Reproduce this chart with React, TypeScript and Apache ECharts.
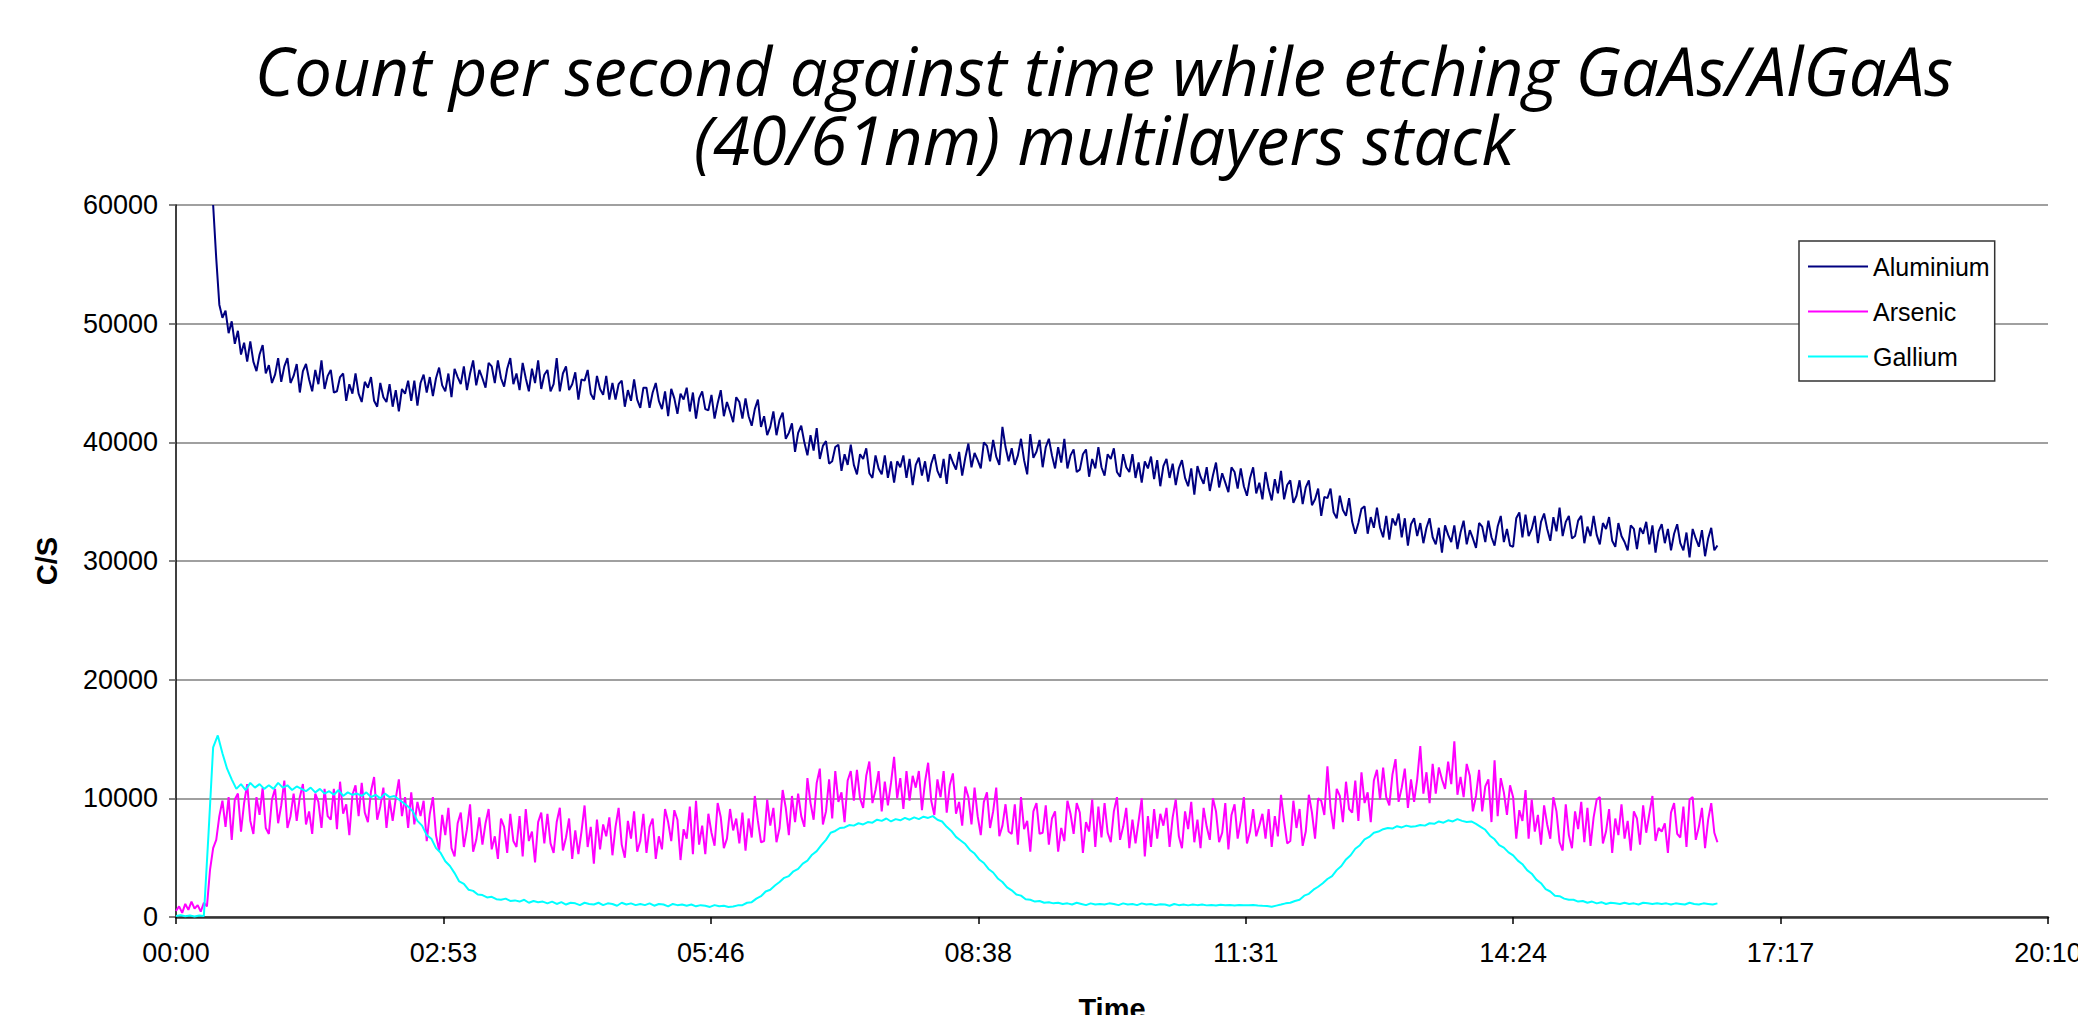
import React, { useEffect, useRef } from "react";
import * as echarts from "echarts";

// ---------------- DATA ----------------
const TITLE_LINES = [
  "Count per second against time while etching GaAs/AlGaAs",
  "(40/61nm) multilayers stack",
];
const SERIES_NAMES = ["Aluminium", "Arsenic", "Gallium"];
const SERIES_COLORS = ["#000080", "#ff00ff", "#00ffff"];
const X_AXIS_NAME = "Time";
const Y_AXIS_NAME = "C/S";

// sample intervals (seconds) and first sample time of each trace
const ALUMINIUM_STEP_S = 2;
const ARSENIC_STEP_S = 2;
const GALLIUM_STEP_S = 3;
const ALUMINIUM_START_S = 24;
const ARSENIC_START_S = 0;
const GALLIUM_START_S = 0;

const aluminium = [
  60000, 55500, 51600, 50500, 51100, 49200, 50200, 48300, 49400, 47400,
  48400, 46800, 48500, 46800, 46000, 47400, 48200, 45800, 46500, 45000,
  45700, 47100, 45100, 46400, 47100, 45000, 45600, 46600, 44200, 46000,
  46600, 45300, 44300, 46100, 44900, 46900, 44500, 45600, 46100, 44200,
  44300, 45500, 45800, 43500, 44900, 44100, 45800, 44100, 43400, 45100,
  44600, 45500, 43500, 43000, 45000, 43800, 43400, 44900, 43000, 44400,
  42600, 44500, 44100, 45200, 43500, 45200, 43100, 45000, 45700, 44200,
  45500, 43900, 45400, 46300, 44800, 44300, 45800, 43800, 46200, 45500,
  44900, 46400, 44400, 45800, 46900, 44800, 46100, 45400, 44600, 46700,
  46400, 45000, 46900, 45400, 44700, 46200, 47100, 44900, 45800, 44400,
  46700, 45400, 44300, 46200, 45000, 46900, 44500, 45700, 46100, 44300,
  44900, 47100, 44300, 45800, 46400, 44400, 44900, 45900, 43600, 45300,
  45200, 46100, 44100, 43600, 45600, 44500, 44000, 45600, 43600, 45000,
  43600, 44900, 45200, 43000, 44400, 43500, 45300, 43600, 42900, 44600,
  44600, 42900, 44200, 45000, 43500, 42800, 44300, 42200, 44500, 43700,
  42400, 44100, 43600, 44600, 42600, 44200, 42000, 43700, 44300, 42800,
  42700, 44000, 42000, 43300, 44400, 42200, 43400, 42600, 41700, 43800,
  43400, 42000, 43700, 42200, 41400, 42800, 43600, 41300, 42200, 40600,
  41300, 42600, 40600, 41900, 42500, 40300, 40800, 41600, 39200, 40800,
  41400, 40000, 38900, 40600, 39300, 41200, 38600, 39700, 40100, 38200,
  38400, 39600, 39800, 37600, 39000, 38100, 39800, 38100, 37300, 39000,
  38600, 39500, 37400, 37000, 38900, 37800, 37300, 38900, 37000, 38400,
  36600, 38400, 37900, 38900, 37000, 38600, 36400, 38100, 38700, 37200,
  38400, 36700, 38200, 39000, 37600, 37000, 38600, 36500, 39000, 38300,
  37700, 39200, 37200, 38700, 39900, 37900, 39100, 38500, 37800, 40000,
  39700, 38400, 40200, 38800, 38100, 41300, 39600, 38400, 39500, 38100,
  38900, 40300, 38500, 37300, 40700, 38700, 39200, 40200, 37900, 39600,
  40300, 38900, 37800, 39600, 38300, 40300, 37800, 38900, 39400, 37500,
  37700, 39000, 39400, 37100, 38600, 37800, 39600, 37900, 37200, 39000,
  38600, 39500, 37500, 37100, 39000, 37900, 37500, 39000, 37000, 38300,
  36600, 38400, 37800, 38800, 36900, 38500, 36300, 38000, 38600, 37000,
  38200, 36400, 37800, 38500, 37000, 36300, 37800, 35600, 38000, 37100,
  36500, 37900, 35900, 37200, 38300, 36200, 37400, 36600, 35800, 37900,
  37500, 36100, 37800, 36300, 35500, 37000, 37900, 35700, 36600, 35200,
  37500, 36100, 35100, 36900, 35700, 37600, 35200, 36400, 36800, 34900,
  35500, 36800, 34800, 36200, 36800, 34700, 35200, 36100, 33800, 35400,
  35300, 36100, 34100, 33600, 35500, 34300, 33800, 35300, 33300, 32300,
  33200, 34400, 34600, 32300, 33700, 32800, 34500, 32800, 32000, 33800,
  31800, 33600, 33000, 34000, 32000, 33600, 31300, 33100, 33600, 32100,
  33200, 31500, 32800, 33600, 32000, 31400, 32800, 30700, 33000, 32200,
  31600, 33000, 31000, 32400, 33400, 31400, 32600, 31900, 31100, 33200,
  32900, 31600, 33400, 32000, 31300, 32900, 33800, 31600, 32700, 31300,
  31200, 33600, 34100, 32000, 33900, 32100, 32700, 33800, 31500, 33300,
  34000, 32700, 31700, 33700, 32500, 34500, 32100, 33300, 33800, 31900,
  32100, 33400, 33800, 31500, 32900, 32100, 33800, 32200, 31400, 33200,
  32700, 33700, 31700, 31200, 33200, 32100, 31600, 30900, 33000, 32700,
  31000, 32800, 32300, 33300, 31400, 33000, 30700, 32500, 33100, 31500,
  32700, 30900, 32300, 33100, 31500, 30900, 32400, 30300, 32700, 31900,
  31200, 32600, 30400, 31900, 32800, 30900, 31300,
];

const arsenic = [
  500, 900, 350, 1100, 600, 1300, 700, 1000, 450, 1200,
  900, 4000, 5800, 6500, 8500, 9800, 7600, 10100, 6500, 9900,
  10400, 7200, 9600, 11200, 8100, 7000, 10100, 8600, 10900, 7500,
  7000, 9900, 10800, 7900, 9400, 11500, 7500, 8500, 10400, 8100,
  10100, 11200, 7800, 8900, 7000, 10400, 9700, 7500, 10800, 8500,
  8200, 10800, 7400, 11400, 8700, 9500, 6900, 10300, 11100, 8500,
  11300, 8800, 8000, 10600, 11800, 8200, 9300, 10900, 7500, 9900,
  8100, 10000, 11600, 8500, 10100, 7500, 10500, 7800, 9700, 8500,
  9800, 6400, 8700, 10100, 6900, 5600, 8600, 6900, 9200, 5800,
  5100, 7900, 8800, 5900, 7400, 9500, 5500, 6500, 8400, 6100,
  7900, 9100, 5700, 6800, 4900, 8300, 7600, 5400, 8700, 6400,
  5900, 8500, 5100, 9100, 6400, 7200, 4600, 8000, 8800, 6200,
  8700, 6200, 5400, 8000, 9200, 5600, 6700, 8300, 4900, 7300,
  5300, 7200, 9400, 5900, 7600, 4500, 8200, 5700, 7800, 6800,
  8400, 5200, 7600, 9200, 6100, 5000, 8100, 6600, 8900, 5500,
  6400, 8700, 5400, 7600, 8300, 4900, 6800, 5700, 9100, 8000,
  6400, 9000, 8200, 4800, 7400, 6600, 9300, 5300, 9800, 6100,
  7700, 5300, 8700, 7100, 6000, 9600, 8400, 5800, 6600, 9100,
  7300, 8300, 6200, 8800, 5600, 8300, 6700, 10200, 8100, 6300,
  6400, 9900, 7700, 9200, 6300, 7500, 10700, 9200, 6900, 10200,
  8000, 10400, 8500, 7600, 11700, 9600, 8200, 11300, 12500, 7800,
  8900, 11600, 8300, 12300, 9700, 10500, 8000, 11500, 12300, 9800,
  12400, 10000, 9200, 11900, 13100, 9600, 10700, 12300, 8900, 11400,
  9400, 11300, 13500, 10000, 11700, 9100, 12300, 9800, 11900, 10900,
  12300, 9000, 11400, 13000, 9800, 8600, 11600, 10100, 12300, 8800,
  11100, 12100, 8700, 9700, 7700, 11000, 10100, 7800, 10900, 8500,
  6900, 9700, 10500, 7500, 8900, 10900, 6800, 7700, 9500, 7200,
  7000, 9500, 6100, 10100, 7400, 8100, 5500, 8900, 9600, 7000,
  7100, 9400, 6100, 8300, 8900, 5500, 7500, 6400, 9800, 8700,
  7000, 9600, 8800, 5400, 8000, 7200, 9900, 5900, 9300, 6700,
  9600, 7100, 6300, 8900, 10100, 6500, 7600, 9200, 5800, 8200,
  6200, 8100, 10000, 5100, 8500, 5900, 9100, 6600, 8700, 7700,
  9200, 5900, 8400, 9900, 6800, 5800, 8900, 7400, 9700, 6300,
  8200, 5800, 9200, 7600, 6500, 10000, 8900, 6300, 7100, 9600,
  5700, 8600, 9500, 6600, 8100, 10100, 6200, 7200, 9100, 6800,
  7700, 8700, 6600, 9100, 5900, 8500, 6800, 10300, 8100, 6200,
  6400, 9800, 7500, 9100, 6000, 7200, 10300, 8800, 6600, 10000,
  9800, 8600, 12700, 9200, 7400, 10800, 10200, 8000, 11400, 9100,
  8800, 11500, 8100, 12200, 9600, 10500, 8000, 11500, 12400, 9900,
  12600, 10100, 9400, 12000, 13300, 9700, 10900, 12500, 9200, 11600,
  9700, 11600, 14400, 10400, 12200, 9600, 12900, 10400, 12600, 11600,
  10800, 13100, 11200, 14800, 10300, 11800, 10100, 12900, 11900, 8900,
  10200, 12400, 8900, 11000, 11600, 8000, 13200, 8500, 11700, 10500,
  8600, 11100, 10100, 6600, 9000, 8100, 10700, 6600, 9900, 7200,
  8600, 6100, 9400, 7800, 6600, 10100, 8900, 6300, 5600, 9500,
  6900, 5800, 8900, 7400, 9700, 6300, 9200, 6000, 8400, 9900,
  10100, 6200, 7200, 9100, 5400, 8300, 6900, 9500, 6600, 8100,
  5600, 8900, 8300, 6100, 9400, 7100, 8700, 10200, 6400, 7500,
  7200, 7900, 5400, 8800, 9600, 7000, 6700, 9300, 5900, 9900,
  10100, 6500, 7600, 9200, 5800, 8200, 9600, 7100, 6300,
];

const gallium = [
  80, 150, 60, 120, 50, 130, 90, 7000, 14300, 15300,
  13800, 12500, 11600, 10800, 11200, 10700, 11300, 10900, 11200, 10800,
  11100, 10800, 11300, 10900, 11100, 10700, 11000, 10800, 10600, 10900,
  10500, 10800, 10400, 10600, 10300, 10700, 10200, 10500, 10300, 10400,
  10200, 10500, 10100, 10300, 10000, 10400, 10100, 10200, 9900, 9600,
  9300, 8900, 8100, 7700, 6900, 6600, 5800, 5400, 4700, 4300,
  3700, 3000, 2800, 2300, 2200, 1900, 1850, 1650, 1700, 1500,
  1450, 1550, 1350, 1400, 1300, 1450, 1200, 1350, 1250, 1300,
  1150, 1300, 1100, 1250, 1050, 1200, 1150, 1000, 1200, 1100,
  1050, 1200, 1000, 1150, 1100, 950, 1200, 1050, 1150, 1000,
  1100, 1000, 1150, 950, 1100, 1050, 900, 1100, 1000, 1050,
  950, 1050, 900, 1000, 950, 850, 1000, 900, 950, 850,
  880, 980, 1000, 1200, 1250, 1550, 1750, 2150, 2300, 2650,
  2950, 3300, 3450, 3850, 4050, 4500, 4750, 5250, 5550, 6050,
  6500, 7100, 7250, 7500, 7550, 7750, 7700, 7900, 7800, 8000,
  7950, 8200, 8100, 8300, 8050, 8250, 8150, 8350, 8200, 8400,
  8250, 8450, 8350, 8500, 8200, 8050, 7600, 7250, 6750, 6450,
  6150, 5650, 5350, 4850, 4550, 4050, 3750, 3250, 2950, 2500,
  2250, 1900, 1800, 1500, 1450, 1300, 1350, 1200, 1250, 1150,
  1200, 1100, 1150, 1050, 1200, 1100, 1000, 1150, 1050, 1100,
  1050, 1150, 1100, 1000, 1150, 1050, 1100, 1000, 1150, 1050,
  1100, 1000, 1080, 1050, 950, 1100, 1000, 1050, 980, 1060,
  1000, 1050, 980, 1020, 960, 1030, 990, 1010, 970, 1020,
  1000, 980, 1010, 970, 940, 920, 860, 960, 1050, 1150,
  1200, 1350, 1450, 1800, 1950, 2300, 2550, 2850, 3200, 3450,
  3950, 4300, 4850, 5200, 5750, 6050, 6550, 6750, 7100, 7200,
  7400, 7500, 7450, 7650, 7550, 7700, 7600, 7650, 7750, 7700,
  7900, 7850, 8050, 7950, 8150, 8050, 8250, 8100, 8000, 8050,
  7850, 7600, 7350, 6850, 6550, 6050, 5850, 5450, 5200, 4750,
  4450, 3950, 3650, 3150, 2850, 2350, 2150, 1800, 1750, 1550,
  1450, 1450, 1300, 1350, 1200, 1300, 1150, 1250, 1100, 1200,
  1150, 1100, 1200, 1100, 1150, 1050, 1200, 1150, 1100, 1150,
  1100, 1150, 1050, 1150, 1100, 1050, 1200, 1100, 1050, 1150,
  1100, 1050, 1150,
];

// x axis: Excel major unit of 0.002 day = 172.8 s
const X_MAJOR_UNIT_S = 172.8;
const xTickLabels = ["00:00", "02:53", "05:46", "08:38", "11:31", "14:24", "17:17", "20:10"];
const yTickValues = [0, 10000, 20000, 30000, 40000, 50000, 60000];

const FONT = "'Liberation Sans', Arial, Helvetica, sans-serif";
const TITLE_FONT = "'Open Sans', 'Noto Sans', sans-serif";

const toPoints = (values: number[], startS: number, stepS: number) =>
  values.map((v, i) => [startS + i * stepS, v]);

export default function App() {
  const ref = useRef<HTMLDivElement>(null);

  useEffect(() => {
    if (!ref.current) return;
    const chart = echarts.init(ref.current, undefined, { renderer: "svg" });

    const seriesData = [
      toPoints(aluminium, ALUMINIUM_START_S, ALUMINIUM_STEP_S),
      toPoints(arsenic, ARSENIC_START_S, ARSENIC_STEP_S),
      toPoints(gallium, GALLIUM_START_S, GALLIUM_STEP_S),
    ];

    const titleStyle = {
      fontFamily: TITLE_FONT,
      fontStyle: "italic",
      fontWeight: "normal",
      fontSize: 67,
      lineHeight: 66,
      color: "#000",
    };

    chart.setOption({
      animation: false,
      backgroundColor: "#ffffff",
      textStyle: { fontFamily: FONT, color: "#000" },
      title: [
        { text: TITLE_LINES[0], left: 1104, top: 37, textAlign: "center", padding: 0, textStyle: titleStyle },
        { text: TITLE_LINES[1], left: 1104, top: 106, textAlign: "center", padding: 0, textStyle: titleStyle },
      ],
      legend: {
        orient: "vertical",
        left: 1799,
        top: 241,
        padding: [13, 5, 12, 9],
        itemGap: 20,
        itemWidth: 60,
        itemHeight: 2,
        icon: "rect",
        backgroundColor: "#fff",
        borderColor: "#333",
        borderWidth: 1.5,
        borderRadius: 0,
        textStyle: { fontFamily: FONT, fontSize: 25, lineHeight: 25, color: "#000" },
        data: SERIES_NAMES,
      },
      grid: {
        left: 176,
        right: 30,
        top: 205,
        bottom: 98,
        containLabel: false,
        outerBoundsMode: "none",
      },
      xAxis: {
        type: "value",
        min: 0,
        max: X_MAJOR_UNIT_S * (xTickLabels.length - 1),
        interval: X_MAJOR_UNIT_S,
        name: X_AXIS_NAME,
        nameLocation: "middle",
        nameGap: 77,
        nameTextStyle: { fontFamily: FONT, fontSize: 29, fontWeight: "bold", color: "#000" },
        axisLine: { show: true, onZero: false, lineStyle: { color: "#333", width: 2.5 } },
        axisTick: { show: true, inside: false, length: 7, lineStyle: { color: "#000", width: 1.5 } },
        axisLabel: {
          show: true,
          margin: 22,
          fontFamily: FONT,
          fontSize: 27,
          color: "#000",
          showMinLabel: true,
          showMaxLabel: true,
          formatter: (v: number) => xTickLabels[Math.round(v / X_MAJOR_UNIT_S)] ?? "",
        },
        splitLine: { show: false },
      },
      yAxis: {
        type: "value",
        min: yTickValues[0],
        max: yTickValues[yTickValues.length - 1],
        interval: yTickValues[1] - yTickValues[0],
        name: Y_AXIS_NAME,
        nameLocation: "middle",
        nameRotate: 90,
        nameGap: 115,
        nameTextStyle: { fontFamily: FONT, fontSize: 29, fontWeight: "bold", color: "#000" },
        axisLine: { show: true, lineStyle: { color: "#000", width: 1.5 } },
        axisTick: { show: true, inside: false, length: 7, lineStyle: { color: "#555", width: 1.5 } },
        axisLabel: {
          show: true,
          margin: 18,
          fontFamily: FONT,
          fontSize: 27,
          color: "#000",
          formatter: (v: number) => String(v),
        },
        splitLine: { show: true, lineStyle: { color: "#808080", width: 1.5 } },
      },
      series: SERIES_NAMES.map((name, i) => ({
        name,
        type: "line",
        data: seriesData[i],
        showSymbol: false,
        symbol: "none",
        clip: true,
        color: SERIES_COLORS[i],
        lineStyle: { color: SERIES_COLORS[i], width: 2 },
        z: 2 + i,
      })),
    });

    return () => chart.dispose();
  }, []);

  return (
    <div
      ref={ref}
      style={{ position: "absolute", left: 0, top: 0, width: 2078, height: 1015, background: "#fff" }}
    />
  );
}
